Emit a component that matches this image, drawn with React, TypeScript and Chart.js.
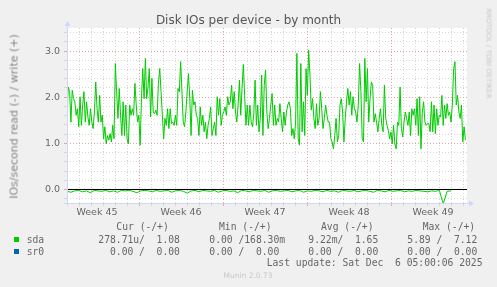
import React, { useEffect, useRef } from "react";
import { Chart, registerables } from "chart.js";

Chart.register(...registerables);

const SDA_WRITE = [
  1.68, 2.22, 2.12, 1.46, 2.15, 1.97, 1.90, 1.61, 1.75, 1.36,
  2.01, 1.39, 1.83, 2.12, 1.46, 1.90, 1.57, 1.39, 1.75, 1.46,
  1.32, 1.68, 2.33, 1.75, 1.46, 2.04, 1.46, 1.61, 1.10, 1.36,
  0.99, 1.17, 1.07, 1.21, 1.03, 1.39, 1.10, 2.73, 2.12, 1.54,
  2.19, 1.61, 1.17, 1.90, 1.17, 1.83, 1.10, 0.99, 1.83, 1.61,
  1.75, 1.61, 2.30, 1.83, 1.46, 1.61, 0.96, 1.97, 2.62, 1.97,
  2.84, 1.97, 2.22, 2.62, 1.57, 2.41, 1.68, 1.64, 1.72, 1.61,
  2.30, 2.62, 2.12, 1.61, 1.10, 1.54,
  1.39, 1.75, 1.32, 1.75, 1.43, 1.46, 1.39, 1.61, 1.39, 2.19,
  2.12, 2.77, 2.12, 1.46, 1.36, 1.68, 2.12, 2.51, 1.97, 1.17,
  2.15, 1.83, 1.90, 1.61, 1.54, 1.17, 1.79, 1.39, 1.61, 1.25,
  1.46, 1.10, 1.39, 1.54, 1.79, 1.17, 1.32, 1.46, 1.17, 2.01,
  1.61, 1.97, 1.39, 1.61, 1.68, 1.79, 1.61, 2.01, 1.83, 1.90,
  2.26, 1.75, 2.12, 1.68, 1.46, 1.83, 2.37, 1.61, 2.19, 2.71,
  2.04, 1.39, 1.83, 1.39, 1.83, 1.46, 1.36, 1.64, 2.37, 1.39,
  1.83, 1.25, 1.54,
  2.48, 1.17, 2.26, 2.59, 1.68, 1.32, 1.54, 1.83, 2.08, 1.39,
  1.83, 1.39, 1.54, 1.46, 1.86, 1.54, 1.25, 1.68, 1.39, 1.68,
  1.83, 1.90, 1.75, 1.17, 1.32, 1.10, 1.46, 2.95, 1.10, 0.96,
  2.73, 1.25, 1.90, 1.17, 2.62, 2.04, 3.02, 2.48, 1.72, 1.97,
  1.54, 1.32, 1.86, 1.39, 1.54, 2.12, 1.75, 1.32, 1.54, 1.83,
  1.61, 1.46, 1.46, 1.10, 1.03, 0.88, 1.17, 1.54, 1.03, 1.17,
  1.83, 1.97, 1.68, 1.03, 1.54, 1.90, 2.19, 1.83, 2.12, 1.61,
  2.01, 1.75, 1.68, 1.46, 1.83, 2.73, 2.12, 1.10,
  1.03, 2.84, 1.90, 2.62, 1.46, 1.97, 2.33, 2.26, 1.46, 1.64,
  1.46, 1.25, 1.54, 1.75, 1.39, 1.25, 2.26, 1.54, 1.39, 1.28,
  1.10, 1.25, 0.99, 1.39, 0.99, 0.88, 1.46, 1.39, 2.22, 1.32,
  1.14, 1.46, 1.68, 1.54, 1.39, 1.68, 1.17, 1.75, 1.61, 1.75,
  1.39, 1.97, 1.17, 2.01, 0.88, 1.68, 1.90, 1.46, 1.39, 1.43,
  1.43, 1.25, 1.90, 1.25, 1.83, 1.21, 1.75, 1.39, 1.61, 1.57,
  2.04, 1.39, 1.83, 1.54, 1.86, 1.61, 1.68, 1.46, 1.83, 2.62,
  2.77, 1.83, 2.04, 1.68, 1.54, 1.83, 1.03, 1.36, 1.07,
];

// sda read IOs/s (-), drawn below zero
const SDA_READ = [
  0.04, 0.06, 0.03, 0.02, 0.05, 0.03, 0.07, 0.02, 0.03, 0.04,
  0.02, 0.05, 0.03, 0.06, 0.02, 0.03, 0.02, 0.04, 0.07, 0.03,
  0.02, 0.03, 0.05, 0.02, 0.04, 0.03, 0.02, 0.06, 0.03, 0.02,
  0.04, 0.08, 0.03, 0.02, 0.05, 0.02, 0.03, 0.04, 0.02, 0.06,
  0.03, 0.02, 0.04, 0.03, 0.07, 0.02, 0.03, 0.05, 0.02, 0.03,
  0.04, 0.02, 0.06, 0.03, 0.02, 0.04, 0.03, 0.02, 0.05, 0.03,
  0.02, 0.06, 0.03, 0.04, 0.02, 0.03, 0.05, 0.02, 0.04, 0.03,
  0.06, 0.02, 0.03, 0.04, 0.02, 0.05, 0.03, 0.02, 0.04, 0.06,
  0.02, 0.03, 0.05, 0.02, 0.04, 0.03, 0.02, 0.05, 0.03, 0.04,
  0.02, 0.03, 0.04, 0.05, 0.03, 0.04, 0.02, 0.31, 0.04, 0.03,
];

const SR0_WRITE = [0, 0];
const SR0_READ = [0, 0];

// time span in days
const X_MAX = 33.333;
const WRITE_END = 33.2;
const READ_END = 32;
const SR0_END = 33.2;

const WEEK_LABELS = ["Week 45", "Week 46", "Week 47", "Week 48", "Week 49"];
const WEEK_CENTERS = [2.5, 9.5, 16.5, 23.5, 30.5];
const WEEK_BOUNDS = [6, 13, 20, 27];
const DAY_TICKS = Array.from({ length: 33 }, (_, i) => i + 1);

const Y_MIN = -0.293;
const Y_MAX = 3.5;
const Y_GRID = Array.from({ length: 19 }, (_, i) => Math.round((i - 1) * 2) / 10);
const Y_LABELS = [0, 1, 2, 3];

const LEGEND_HEAD = ["Cur (-/+)", "Min (-/+)", "Avg (-/+)", "Max (-/+)"];
const SDA_STATS = ["278.71u/  1.08", "0.00 /168.30m", "9.22m/  1.65", "5.89 /  7.12"];
const SR0_STATS = ["  0.00 /  0.00", "0.00 /  0.00", "0.00 /  0.00", "0.00 /  0.00"];

const GREEN = "#00CC00";
const BLUE = "#0066B3";
const AXIS = "#CFD6F8";
const MINOR = "#D6D6D6";
const MAJOR = "#E2A4A4";
const FONT_COL = "#666666";

const toPts = (vals: number[], end: number, sign: number) =>
  vals.map((v, i) => ({ x: (i * end) / (vals.length - 1), y: sign * v }));

const muninPlugin = {
  id: "muninDecor",
  beforeDraw(chart: any) {
    const { ctx, chartArea: a } = chart;
    ctx.save();
    ctx.fillStyle = "#FFFFFF";
    ctx.fillRect(a.left, a.top, a.right - a.left, a.bottom - a.top);
    ctx.restore();
  },
  afterDatasetsDraw(chart: any) {
    const { ctx, chartArea: a } = chart;
    const y0 = Math.floor(chart.scales.y.getPixelForValue(0)) + 0.5;
    ctx.save();
    ctx.strokeStyle = "#000000";
    ctx.lineWidth = 1;
    ctx.beginPath();
    ctx.moveTo(a.left, y0);
    ctx.lineTo(a.right, y0);
    ctx.stroke();
    ctx.restore();
  },
  afterDraw(chart: any) {
    const { ctx, chartArea: a } = chart;
    const xl = Math.round(a.left) + 0.5;
    const yb = Math.round(a.bottom) + 0.5;
    ctx.save();
    ctx.strokeStyle = AXIS;
    ctx.fillStyle = AXIS;
    ctx.lineWidth = 1;
    ctx.beginPath();
    ctx.moveTo(xl, a.bottom + 3);
    ctx.lineTo(xl, a.top - 3);
    ctx.moveTo(a.left - 3, yb);
    ctx.lineTo(a.right + 3, yb);
    ctx.stroke();
    ctx.beginPath();
    ctx.moveTo(xl, a.top - 7);
    ctx.lineTo(xl - 3, a.top - 2);
    ctx.lineTo(xl + 3, a.top - 2);
    ctx.closePath();
    ctx.fill();
    ctx.beginPath();
    ctx.moveTo(a.right + 7, yb);
    ctx.lineTo(a.right + 2, yb - 3);
    ctx.lineTo(a.right + 2, yb + 3);
    ctx.closePath();
    ctx.fill();
    ctx.restore();
  },
};

function Txt(props: {
  x: number;
  y: number;
  size: number;
  text: string;
  mono?: boolean;
  color?: string;
  align?: "left" | "right" | "center";
}) {
  const { x, y, size, text, mono, color, align } = props;
  const style: any = {
    position: "absolute",
    top: y - size * 0.5,
    fontSize: size,
    lineHeight: `${size}px`,
    whiteSpace: "pre",
    color: color || FONT_COL,
    fontFamily: mono ? "'DejaVu Sans Mono', monospace" : "'DejaVu Sans', sans-serif",
  };
  if (align === "right") style.right = 497 - x;
  else if (align === "center") {
    style.left = x - 200;
    style.width = 400;
    style.textAlign = "center";
  } else style.left = x;
  return <div style={style}>{text}</div>;
}

export default function App() {
  const ref = useRef<HTMLCanvasElement>(null);

  useEffect(() => {
    const canvas = ref.current;
    if (!canvas) return;
    const chart = new Chart(canvas, {
      type: "line",
      data: {
        datasets: [
          {
            label: "sr0 read",
            data: toPts(SR0_READ, SR0_END, -1),
            borderColor: BLUE,
            borderWidth: 1,
            pointRadius: 0,
          },
          {
            label: "sr0 write",
            data: toPts(SR0_WRITE, SR0_END, 1),
            borderColor: BLUE,
            borderWidth: 1,
            pointRadius: 0,
          },
          {
            label: "sda read",
            data: toPts(SDA_READ, READ_END, -1),
            borderColor: GREEN,
            borderWidth: 1,
            pointRadius: 0,
            tension: 0,
          },
          {
            label: "sda write",
            data: toPts(SDA_WRITE, WRITE_END, 1),
            borderColor: GREEN,
            borderWidth: 1,
            pointRadius: 0,
            tension: 0,
          },
        ],
      },
      options: {
        responsive: false,
        animation: false,
        events: [],
        parsing: false,
        layout: { padding: { left: 0, top: 28, right: 30, bottom: 67 } },
        plugins: {
          legend: { display: false },
          tooltip: { enabled: false },
          title: { display: false },
        },
        scales: {
          x: {
            type: "linear",
            min: 0,
            max: X_MAX,
            afterBuildTicks: (s: any) => {
              s.ticks = [...DAY_TICKS, ...WEEK_CENTERS]
                .sort((p, q) => p - q)
                .map((v) => ({ value: v }));
            },
            afterFit: (s: any) => {
              s.height = 17;
              s.paddingLeft = 0;
              s.paddingRight = 0;
            },
            ticks: {
              autoSkip: false,
              maxRotation: 0,
              minRotation: 0,
              padding: 1,
              color: FONT_COL,
              font: { family: "DejaVu Sans", size: 9.5 },
              callback: (v: any) => {
                const i = WEEK_CENTERS.indexOf(Number(v));
                return i >= 0 ? WEEK_LABELS[i] : "";
              },
            },
            grid: {
              color: (c: any) => {
                const v = c.tick ? c.tick.value : 0;
                if (WEEK_CENTERS.includes(v)) return "rgba(0,0,0,0)";
                if (WEEK_BOUNDS.includes(v)) return MAJOR;
                return MINOR;
              },
              lineWidth: 1,
              tickLength: 3,
            },
            border: { display: false, dash: [1, 2] },
          },
          y: {
            type: "linear",
            min: Y_MIN,
            max: Y_MAX,
            afterBuildTicks: (s: any) => {
              s.ticks = Y_GRID.map((v) => ({ value: v }));
            },
            afterFit: (s: any) => {
              s.width = 67;
              s.paddingTop = 0;
              s.paddingBottom = 0;
            },
            ticks: {
              autoSkip: false,
              padding: 4,
              color: FONT_COL,
              font: { family: "DejaVu Sans", size: 9.5 },
              callback: (v: any) => {
                const n = Number(v);
                return Y_LABELS.some((l) => Math.abs(l - n) < 1e-9) ? n.toFixed(1) : "";
              },
            },
            grid: {
              color: (c: any) => {
                const v = c.tick ? c.tick.value : 0;
                if (Y_LABELS.some((l) => Math.abs(l - v) < 1e-9)) return MAJOR;
                return MINOR;
              },
              lineWidth: 1,
              tickLength: 3,
            },
            border: { display: false, dash: [1, 2] },
          },
        },
      } as any,
      plugins: [muninPlugin],
    } as any);
    return () => chart.destroy();
  }, []);

  const colX = [98.3, 209.3, 308.3, 407.3];
  const headX = [116.3, 219, 321, 422.7];

  return (
    <div
      style={{
        position: "fixed",
        left: 0,
        top: 0,
        width: 497,
        height: 287,
        background: "#F0F0F0",
        overflow: "hidden",
      }}
    >
      <canvas
        ref={ref}
        width={497}
        height={287}
        style={{ position: "absolute", left: 0, top: 0, width: 497, height: 287 }}
      />
      <Txt x={248.5} y={19.5} size={12} text="Disk IOs per device - by month" align="center" color="#555555" />
      <div
        style={{
          position: "absolute",
          left: 14 - 100,
          top: 116 - 5.5,
          width: 200,
          height: 11,
          fontSize: 11,
          lineHeight: "11px",
          textAlign: "center",
          whiteSpace: "pre",
          color: "#858585",
          fontFamily: "'DejaVu Sans', sans-serif",
          transform: "rotate(-90deg)",
        }}
      >
        IOs/second read (-) / write (+)
      </div>
      <div
        style={{
          position: "absolute",
          left: 488 - 60,
          top: 53.5 - 3.5,
          width: 120,
          height: 7,
          fontSize: 7,
          lineHeight: "7px",
          textAlign: "center",
          whiteSpace: "pre",
          color: "#C8C8C8",
          fontFamily: "'DejaVu Sans', sans-serif",
          transform: "rotate(90deg)",
        }}
      >
        RRDTOOL / TOBI OETIKER
      </div>
      {LEGEND_HEAD.map((t, i) => (
        <Txt key={"h" + i} x={headX[i]} y={227.3} size={9.7} mono text={t} />
      ))}
      <div style={{ position: "absolute", left: 14, top: 237.3, width: 5, height: 5, background: GREEN }} />
      <Txt x={26.7} y={240} size={9.7} mono text="sda" />
      {SDA_STATS.map((t, i) => (
        <Txt key={"a" + i} x={colX[i]} y={240} size={9.7} mono text={t} />
      ))}
      <div style={{ position: "absolute", left: 14, top: 249.3, width: 5, height: 5, background: BLUE }} />
      <Txt x={26.7} y={251.7} size={9.7} mono text="sr0" />
      {SR0_STATS.map((t, i) => (
        <Txt key={"b" + i} x={colX[i]} y={251.7} size={9.7} mono text={t} />
      ))}
      <Txt x={482.5} y={263.3} size={9.7} mono align="right" text="Last update: Sat Dec  6 05:00:06 2025" />
      <Txt x={248} y={276} size={7.5} align="center" color="#C8C8C8" text="Munin 2.0.73" />
    </div>
  );
}
